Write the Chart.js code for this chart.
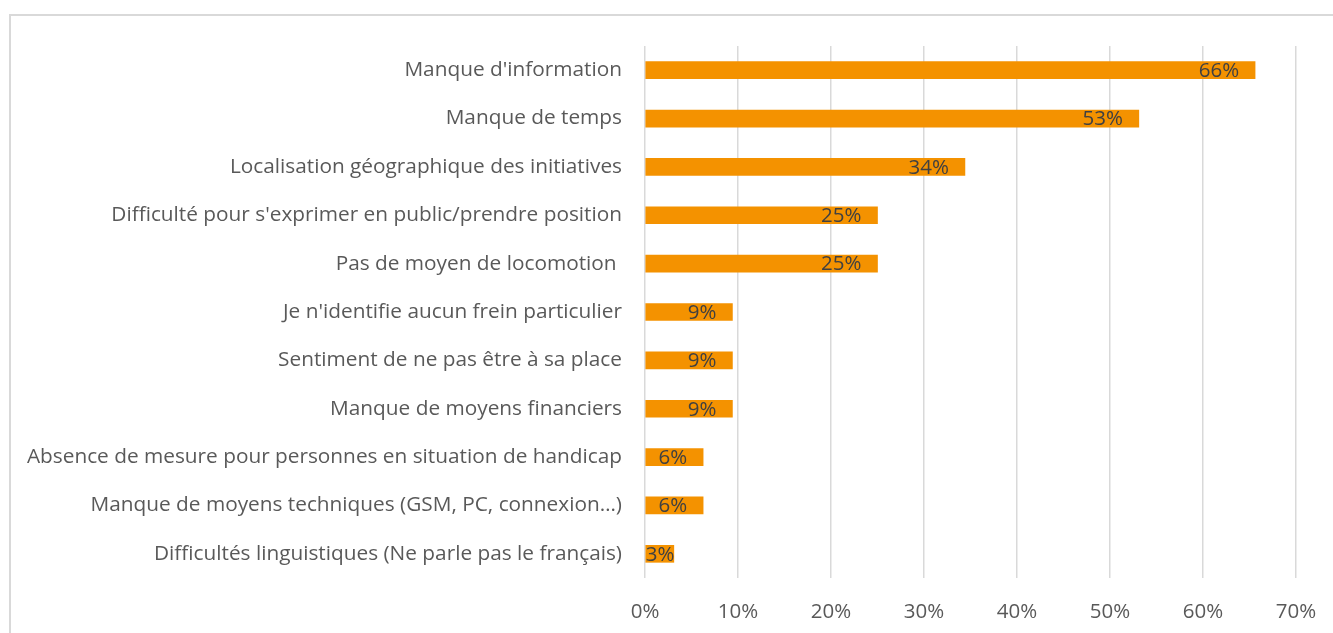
<!DOCTYPE html>
<html>
<head>
<meta charset="utf-8">
<script src="https://cdn.jsdelivr.net/npm/chart.js@4"></script>
<style>
  html, body { margin: 0; padding: 0; background: #fff; }
  #frame { position: absolute; left: 9px; top: 14px; width: 1400px; height: 700px; border: 2px solid #d9d9d9; }
  #wrap { position: absolute; left: 0; top: 0; width: 1333px; height: 633px; }
</style>
</head>
<body>
<div id="frame"></div>
<div id="wrap"><canvas id="c" width="1333" height="633"></canvas></div>
<script>
const categories = [
  "Manque d'information",
  "Manque de temps",
  "Localisation géographique des initiatives",
  "Difficulté pour s'exprimer en public/prendre position",
  "Pas de moyen de locomotion ",
  "Je n'identifie aucun frein particulier",
  "Sentiment de ne pas être à sa place",
  "Manque de moyens financiers",
  "Absence de mesure pour personnes en situation de handicap",
  "Manque de moyens techniques (GSM, PC, connexion…)",
  "Difficultés linguistiques (Ne parle pas le français)"
];
const values = [65.6, 53.1, 34.4, 25.0, 25.0, 9.4, 9.4, 9.4, 6.25, 6.25, 3.1];
const xTicks = [0, 10, 20, 30, 40, 50, 60, 70];

const FONT = "'Open Sans', sans-serif";

const labelPlugin = {
  id: 'barLabels',
  afterDatasetsDraw(chart) {
    const ctx = chart.ctx;
    const meta = chart.getDatasetMeta(0);
    ctx.save();
    ctx.font = "20.5px " + FONT;
    ctx.fillStyle = '#404040';
    ctx.textBaseline = 'middle';
    ctx.textAlign = 'left';
    meta.data.forEach((bar, i) => {
      const txt = Math.round(values[i]) + '%';
      const w = ctx.measureText(txt).width;
      let x = bar.x - 16 - w;
      if (x < bar.base) x = bar.base;
      ctx.fillText(txt, x, bar.y + 1);
    });
    ctx.restore();
  }
};

new Chart(document.getElementById('c'), {
  type: 'bar',
  data: {
    labels: categories,
    datasets: [{
      data: values,
      backgroundColor: '#F49200',
      barThickness: 17
    }]
  },
  options: {
    indexAxis: 'y',
    responsive: false,
    animation: false,
    layout: { padding: { top: 46, right: 37, left: 0, bottom: 0 } },
    plugins: { legend: { display: false }, tooltip: { enabled: false } },
    scales: {
      x: {
        min: 0, max: 70,
        afterBuildTicks(scale) { scale.ticks = xTicks.map(v => ({ value: v })); },
        afterFit(scale) { scale.height = 55; scale.paddingRight = 0; scale.paddingLeft = 0; },
        grid: { color: '#d9d9d9', lineWidth: 1.5, drawTicks: false },
        border: { display: false },
        ticks: {
          padding: 22,
          color: '#595959',
          font: { family: FONT, size: 20.5 },
          callback: v => v + '%'
        }
      },
      y: {
        afterFit(scale) { scale.width = 645; },
        grid: { display: false, drawTicks: false },
        border: { display: false },
        ticks: {
          padding: 23,
          color: '#595959',
          font: { family: FONT, size: 20.8 }
        }
      }
    }
  },
  plugins: [labelPlugin]
});
</script>
</body>
</html>
